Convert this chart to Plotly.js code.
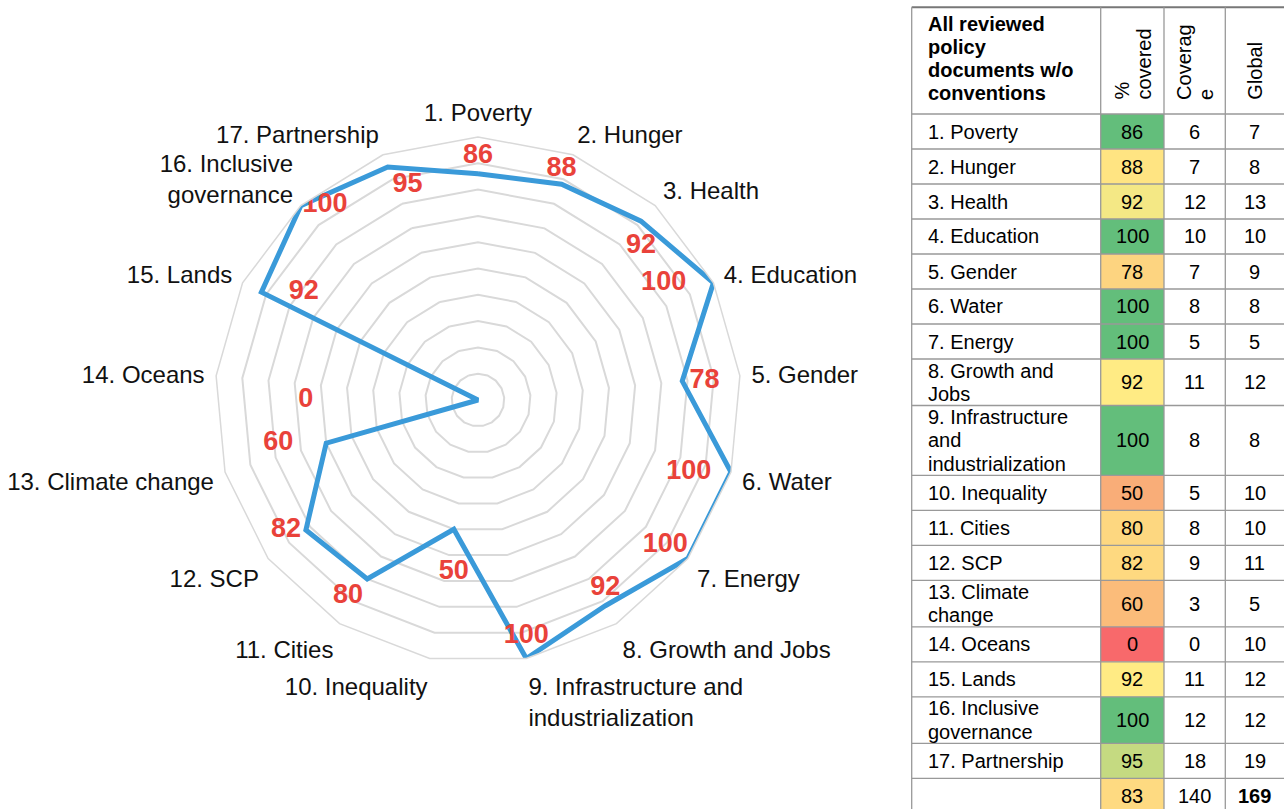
<!DOCTYPE html>
<html>
<head>
<meta charset="utf-8">
<script src="https://cdn.plot.ly/plotly-3.0.1.min.js"></script>
<style>html,body{margin:0;padding:0;background:#fff;}#chart{width:1284px;height:809px;}</style>
</head>
<body>
<div id="chart"></div>
<script>
// ---- data ----
const radarLabels = ['1. Poverty','2. Hunger','3. Health','4. Education','5. Gender','6. Water','7. Energy',
  '8. Growth and Jobs','9. Infrastructure and<br>industrialization','10. Inequality','11. Cities','12. SCP',
  '13. Climate change','14. Oceans','15. Lands','16. Inclusive<br>governance','17. Partnership'];
const tableLabels = ['1. Poverty','2. Hunger','3. Health','4. Education','5. Gender','6. Water','7. Energy',
  '8. Growth and<br>Jobs','9. Infrastructure<br>and<br>industrialization','10. Inequality','11. Cities','12. SCP',
  '13. Climate<br>change','14. Oceans','15. Lands','16. Inclusive<br>governance','17. Partnership'];
const pctCovered = [86,88,92,100,78,100,100,92,100,50,80,82,60,0,92,100,95];
const coverage   = [6,7,12,10,7,8,5,11,8,5,8,9,3,0,11,12,18];
const globalCnt  = [7,8,13,10,9,8,5,12,8,10,10,11,5,10,12,12,19];
const totalPct = 83, totalCoverage = 140, totalGlobal = 169;
const headerFirst = 'All reviewed<br>policy<br>documents w/o<br>conventions';
const headerCols = ['%<br>covered','Coverag<br>e','Global'];

// ---- styles ----
const pctColors = ['#63BE7B','#FFE482','#F4E885','#63BE7B','#FDD480','#63BE7B','#63BE7B','#FFEB84','#63BE7B',
  '#F9AD78','#FDD780','#FED980','#FBBC7A','#F8696B','#FFEB84','#63BE7B','#C5DA81'];
const totalColor = '#FEDA81';
// where each red value label sits relative to its point, and how far (invisible marker size sets the gap)
const labelPositions = ['top center','top center','bottom center','middle left','middle right','middle left',
  'top left','top center','top center','bottom center','bottom left','middle left','middle left','middle left',
  'middle right','middle right','bottom right'];
const labelGap = [5,1,17,42,10,30,0,4,12,46,5,6,51,262,42,1,6];

const W = 1284, H = 809;
const FONT = 'Liberation Sans, Arial, sans-serif';
const px = x => x / W, py = y => 1 - y / H;

// ---- radar ----
const cx = 478, cy = 400, R = 263;
const traces = [
  {
    type: 'scatterpolar', mode: 'lines',
    r: pctCovered.concat([pctCovered[0]]),
    theta: radarLabels.concat([radarLabels[0]]),
    line: {color: '#3a9ad9', width: 5},
    hoverinfo: 'skip', showlegend: false
  },
  {
    type: 'scatterpolar', mode: 'markers+text',
    r: pctCovered, theta: radarLabels,
    text: pctCovered.map(String),
    textposition: labelPositions,
    marker: {size: labelGap, opacity: 0, color: '#e9423a'},
    textfont: {family: FONT, size: 27, color: '#e9423a', weight: 'bold'},
    cliponaxis: true, hoverinfo: 'skip', showlegend: false
  }
];

// ---- table (shapes + annotations) ----
const colX = [911.7, 1100.7, 1164, 1225.3, 1284];
const headerTop = 7.3, headerBottom = 114;
const lineGap = 23.3;
const rowH = n => n === 1 ? 35 : (n === 2 ? 46.5 : 69.8);
const shapes = [], annotations = [];

function addText(text, x, yc, opts) {
  const lines = text.split('<br>');
  const n = lines.length;
  lines.forEach((ln, i) => {
    annotations.push(Object.assign({
      xref: 'paper', yref: 'paper', x: px(x), y: py(yc + (i - (n - 1) / 2) * lineGap),
      text: ln, showarrow: false, xanchor: 'center', yanchor: 'middle',
      font: {family: FONT, size: 20, color: '#000'}
    }, opts || {}));
  });
}
function hline(y, color, w) {
  shapes.push({type: 'line', xref: 'paper', yref: 'paper', x0: px(colX[0]), x1: px(W), y0: py(y), y1: py(y),
    line: {color: color || '#999', width: w || 1.3}});
}

// header
addText(headerFirst, 926, 58.5, {xanchor: 'left', font: {family: FONT, size: 20, color: '#000', weight: 'bold'}});
headerCols.forEach((t, c) => {
  const xc = (colX[c + 1] + colX[c + 2]) / 2;
  const lines = t.split('<br>');
  const n = lines.length;
  lines.forEach((ln, i) => {
    annotations.push({xref: 'paper', yref: 'paper', x: px(xc + (i - (n - 1) / 2) * 21.5), y: py(102),
      text: ln, showarrow: false, textangle: -90, xanchor: 'center', yanchor: 'bottom',
      font: {family: FONT, size: 20, color: '#000'}});
  });
});

// body
let y = headerBottom;
const rowBounds = [headerBottom];
tableLabels.forEach((lab, i) => {
  const h = rowH(lab.split('<br>').length);
  const yc = y + h / 2;
  shapes.push({type: 'rect', xref: 'paper', yref: 'paper', x0: px(colX[1]), x1: px(colX[2]), y0: py(y), y1: py(y + h),
    fillcolor: pctColors[i], line: {width: 0}, layer: 'below'});
  addText(lab, 926, yc, {xanchor: 'left'});
  addText(String(pctCovered[i]), (colX[1] + colX[2]) / 2, yc);
  addText(String(coverage[i]), (colX[2] + colX[3]) / 2, yc);
  addText(String(globalCnt[i]), (colX[3] + colX[4]) / 2, yc);
  y += h;
  rowBounds.push(y);
});
// total row
{
  const h = 35, yc = y + h / 2;
  shapes.push({type: 'rect', xref: 'paper', yref: 'paper', x0: px(colX[1]), x1: px(colX[2]), y0: py(y), y1: py(y + h),
    fillcolor: totalColor, line: {width: 0}, layer: 'below'});
  addText(String(totalPct), (colX[1] + colX[2]) / 2, yc);
  addText(String(totalCoverage), (colX[2] + colX[3]) / 2, yc);
  addText(String(totalGlobal), (colX[3] + colX[4]) / 2, yc, {font: {family: FONT, size: 20, color: '#000', weight: 'bold'}});
}
rowBounds.forEach(b => hline(b));
hline(headerTop, '#777', 2);
colX.slice(0, 4).forEach(x => {
  shapes.push({type: 'line', xref: 'paper', yref: 'paper', x0: px(x), x1: px(x), y0: py(headerTop), y1: py(H + 5),
    line: {color: '#999', width: 1.3}});
});

const layout = {
  width: W, height: H,
  margin: {l: 0, r: 0, t: 0, b: 0},
  paper_bgcolor: '#fff',
  showlegend: false,
  font: {family: FONT, color: '#000'},
  polar: {
    domain: {x: [px(cx - R), px(cx + R)], y: [py(cy + R), py(cy - R)]},
    bgcolor: 'rgba(0,0,0,0)',
    gridshape: 'linear',
    radialaxis: {range: [0, 100], dtick: 10, showticklabels: false, ticks: '', showline: false,
      gridcolor: '#d9d9d9', gridwidth: 1.5},
    angularaxis: {type: 'category', direction: 'clockwise', rotation: 90, showgrid: false,
      linecolor: '#d9d9d9', linewidth: 1.5, ticks: 'outside', ticklen: 6, tickcolor: 'rgba(0,0,0,0)',
      tickfont: {family: FONT, size: 24, color: '#111'}}
  },
  shapes: shapes,
  annotations: annotations
};

Plotly.newPlot('chart', traces, layout, {displayModeBar: false, responsive: false});
</script>
</body>
</html>
